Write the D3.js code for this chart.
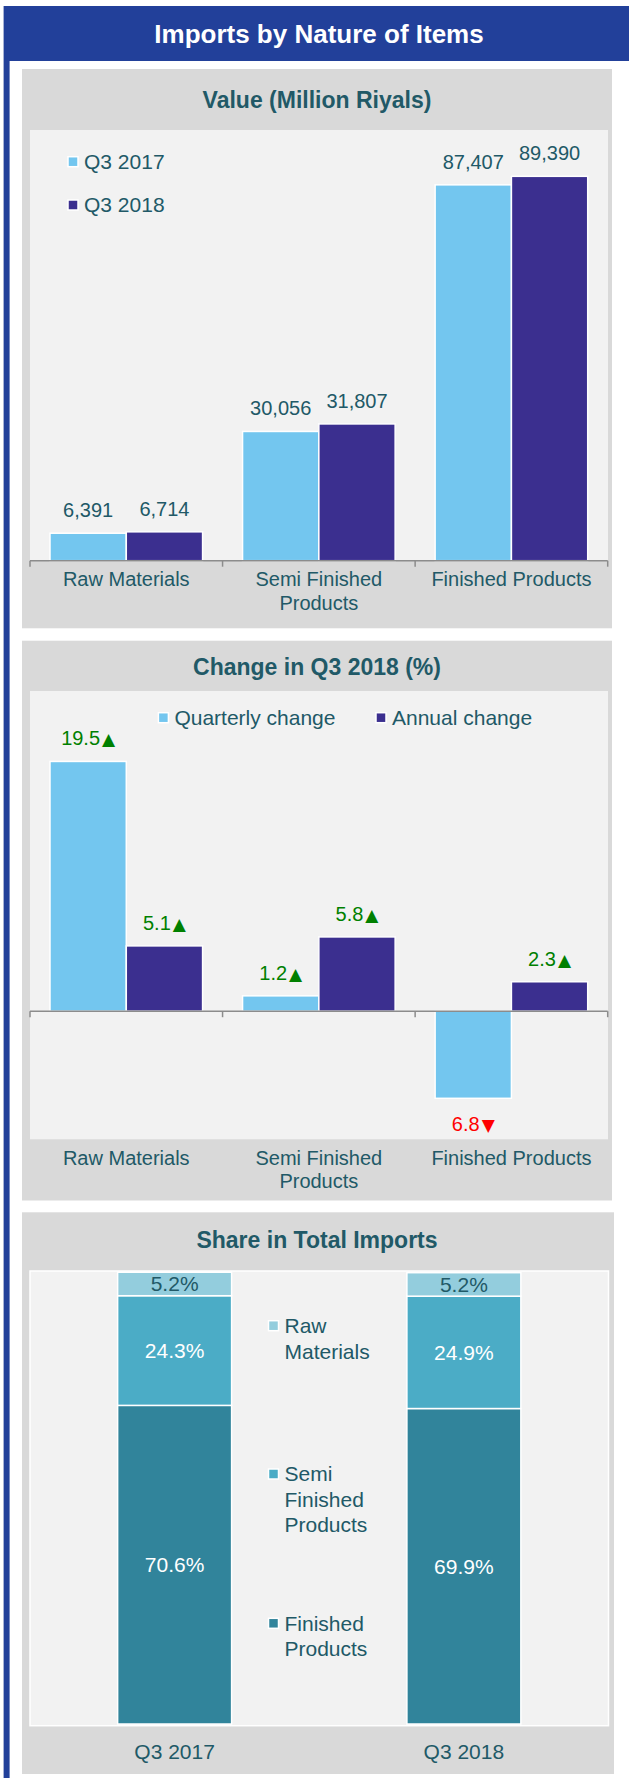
<!DOCTYPE html>
<html><head><meta charset="utf-8">
<script src="https://cdn.jsdelivr.net/npm/d3@7"></script>
<style>
html,body{margin:0;padding:0;background:#fff;}
svg{display:block;font-family:"Liberation Sans",Arial,sans-serif;}
</style></head><body>
<svg id="c" width="629" height="1778"></svg>
<script>
// ---------- DATA ----------
const categories = ["Raw Materials", "Semi Finished Products", "Finished Products"];
const valueSeries = ["Q3 2017", "Q3 2018"];
const values2017 = [6391, 30056, 87407];
const values2018 = [6714, 31807, 89390];

const changeSeries = ["Quarterly change", "Annual change"];
const quarterlyChange = [19.5, 1.2, -6.8];
const annualChange = [5.1, 5.8, 2.3];

const shareCategories = ["Q3 2017", "Q3 2018"];
const shareItems = ["Raw Materials", "Semi Finished Products", "Finished Products"];
const shareRaw = [5.2, 5.2];
const shareSemi = [24.3, 24.9];
const shareFinished = [70.6, 69.9];

// ---------- STYLE ----------
const W = 629, H = 1778;
const TEAL = "#215967";
const C17 = "#73c6ef", C18 = "#3b2f8f";
const SHARE_COLORS = ["#93cddd", "#4bacc6", "#31849b"];
const UP = "#008000", DOWN = "#ff0000";

const svg = d3.select("#c");

// outer frame + header
svg.append("rect").attr("x", 3.6).attr("y", 6).attr("width", W).attr("height", H).attr("fill", "#22409a");
svg.append("rect").attr("x", 9.6).attr("y", 61).attr("width", W).attr("height", H).attr("fill", "#fff");
svg.append("text").attr("x", 319).attr("y", 34).attr("dy", "0.35em").attr("text-anchor", "middle")
  .attr("fill", "#fff").attr("font-size", 26).attr("font-weight", "bold").text("Imports by Nature of Items");

function wrapText(sel, width, lineH) {
  sel.each(function () {
    const t = d3.select(this);
    const words = t.text().split(/\s+/);
    const x = t.attr("x");
    t.text(null);
    let line = [], lines = [];
    let tsp = t.append("tspan");
    words.forEach(w => {
      line.push(w);
      tsp.text(line.join(" "));
      if (tsp.node().getComputedTextLength() > width && line.length > 1) {
        line.pop();
        lines.push(line.join(" "));
        line = [w];
        tsp.text(w);
      }
    });
    lines.push(line.join(" "));
    t.text(null);
    lines.forEach((l, i) => {
      t.append("tspan").attr("x", x).attr("dy", i === 0 ? "0.35em" : lineH).text(l);
    });
  });
}

function panel(x0, y0, x1, y1, title, ty) {
  svg.append("rect").attr("x", x0).attr("y", y0).attr("width", x1 - x0).attr("height", y1 - y0).attr("fill", "#d9d9d9");
  svg.append("text").attr("x", 317).attr("y", ty).attr("dy", "0.35em").attr("text-anchor", "middle")
    .attr("fill", TEAL).attr("font-size", 23).attr("font-weight", "bold").text(title);
}
function plotArea(x0, y0, x1, y1, stroke) {
  svg.append("rect").attr("x", x0).attr("y", y0).attr("width", x1 - x0).attr("height", y1 - y0)
    .attr("fill", "#f2f2f2").attr("stroke", stroke || "none").attr("stroke-width", 1.5);
}
function drawAxis(xs, yBase, xEnd) {
  const g = svg.append("g");
  g.append("line").attr("x1", xs.range()[0]).attr("x2", xEnd).attr("y1", yBase).attr("y2", yBase)
    .attr("stroke", "#8c8c8c").attr("stroke-width", 1.5);
  const ticks = xs.domain().map(d => xs(d)).concat([xEnd]);
  g.selectAll(".tk").data(ticks).join("line").attr("x1", d => d).attr("x2", d => d)
    .attr("y1", yBase).attr("y2", yBase + 6).attr("stroke", "#8c8c8c").attr("stroke-width", 1.5);
}
function catLabels(xs, y) {
  svg.append("g").selectAll("text").data(xs.domain()).join("text")
    .attr("x", d => xs(d) + xs.bandwidth() / 2).attr("y", y).attr("text-anchor", "middle")
    .attr("fill", TEAL).attr("font-size", 20).text(d => d)
    .call(wrapText, 180, 23.5);
}
function legendItem(x, y, color, label, wrapW, lineH) {
  svg.append("rect").attr("x", x).attr("y", y - 5).attr("width", 10).attr("height", 10)
    .attr("fill", color).attr("stroke", "#fff").attr("stroke-width", 1.5);
  const t = svg.append("text").attr("x", x + 16).attr("y", y).attr("fill", TEAL).attr("font-size", 21).text(label);
  if (wrapW) t.call(wrapText, wrapW, lineH); else t.attr("dy", "0.35em");
}

// ---------- CHART 1 : Value ----------
panel(22, 69, 612, 628.3, "Value (Million Riyals)", 100);
plotArea(30, 130, 608, 560.7);
{
  const x0 = d3.scaleBand().domain(categories).range([30, 607.7]);
  const x1 = d3.scaleBand().domain(valueSeries).range([0, x0.bandwidth()]).paddingOuter(0.262);
  const y = d3.scaleLinear().domain([0, 100000]).range([560.7, 130.7]);
  const rows = categories.map((c, i) => ({ cat: c, vals: [
    { s: valueSeries[0], v: values2017[i], c: C17 },
    { s: valueSeries[1], v: values2018[i], c: C18 }] }));
  const g = svg.append("g").selectAll("g").data(rows).join("g")
    .attr("transform", d => `translate(${x0(d.cat)},0)`);
  g.selectAll("rect").data(d => d.vals).join("rect")
    .attr("x", d => x1(d.s)).attr("width", x1.bandwidth())
    .attr("y", d => y(d.v)).attr("height", d => y(0) - y(d.v))
    .attr("fill", d => d.c).attr("stroke", "#fff").attr("stroke-width", 1.5);
  g.selectAll("text").data(d => d.vals).join("text")
    .attr("x", d => x1(d.s) + x1.bandwidth() / 2).attr("y", d => y(d.v) - 23).attr("dy", "0.35em")
    .attr("text-anchor", "middle").attr("fill", TEAL).attr("font-size", 20)
    .text(d => d3.format(",")(d.v));
  drawAxis(x0, y(0), 607.7);
  catLabels(x0, 579.3);
  legendItem(68, 161.7, C17, valueSeries[0]);
  legendItem(68, 205, C18, valueSeries[1]);
}

// ---------- CHART 2 : Change ----------
panel(22, 640.7, 612, 1200.5, "Change in Q3 2018 (%)", 666.7);
plotArea(30, 691, 608, 1139.3);
{
  const x0 = d3.scaleBand().domain(categories).range([30, 607.7]);
  const x1 = d3.scaleBand().domain(changeSeries).range([0, x0.bandwidth()]).paddingOuter(0.262);
  const y = d3.scaleLinear().domain([-10, 25]).range([1139.3, 691]);
  const rows = categories.map((c, i) => ({ cat: c, vals: [
    { s: changeSeries[0], v: quarterlyChange[i], c: C17 },
    { s: changeSeries[1], v: annualChange[i], c: C18 }] }));
  const g = svg.append("g").selectAll("g").data(rows).join("g")
    .attr("transform", d => `translate(${x0(d.cat)},0)`);
  g.selectAll("rect").data(d => d.vals).join("rect")
    .attr("x", d => x1(d.s)).attr("width", x1.bandwidth())
    .attr("y", d => Math.min(y(d.v), y(0))).attr("height", d => Math.abs(y(0) - y(d.v)))
    .attr("fill", d => d.c).attr("stroke", "#fff").attr("stroke-width", 1.5);
  const lab = g.selectAll("text").data(d => d.vals).join("text")
    .attr("x", d => x1(d.s) + x1.bandwidth() / 2)
    .attr("y", d => d.v >= 0 ? y(d.v) - 23 : y(d.v) + 26).attr("dy", "0.35em")
    .attr("text-anchor", "middle").attr("font-size", 20)
    .attr("fill", d => d.v >= 0 ? UP : DOWN);
  lab.append("tspan").text(d => d3.format(".1f")(Math.abs(d.v)));
  lab.append("tspan").attr("dx", 2).attr("font-size", 17).attr("font-family", "DejaVu Sans")
    .text(d => d.v >= 0 ? "\u25B2" : "\u25BC");
  drawAxis(x0, y(0), 607.7);
  catLabels(x0, 1157.7);
  legendItem(158.4, 717.7, C17, changeSeries[0]);
  legendItem(376, 717.7, C18, changeSeries[1]);
}

// ---------- CHART 3 : Share ----------
panel(22, 1212.3, 614, 1774, "Share in Total Imports", 1240);
plotArea(30, 1271, 608.5, 1725.7, "#fff");
{
  const keys = ["Finished", "Semi", "Raw"];
  const names = { Raw: shareItems[0], Semi: shareItems[1], Finished: shareItems[2] };
  const colors = { Raw: SHARE_COLORS[0], Semi: SHARE_COLORS[1], Finished: SHARE_COLORS[2] };
  const rows = shareCategories.map((c, i) => ({ cat: c, Raw: shareRaw[i], Semi: shareSemi[i], Finished: shareFinished[i] }));
  const stacked = d3.stack().keys(keys)(rows);
  const x = d3.scaleBand().domain(shareCategories).range([30, 608.5]);
  const bw = x.bandwidth() * 0.394;
  const y = d3.scaleLinear().domain([0, 100]).range([1724, 1272.7]);
  const layers = svg.append("g").selectAll("g").data(stacked).join("g").attr("fill", d => colors[d.key]);
  layers.selectAll("rect").data(d => d.map(p => Object.assign(p, { key: d.key }))).join("rect")
    .attr("x", d => x(d.data.cat) + (x.bandwidth() - bw) / 2).attr("width", bw)
    .attr("y", d => y(d[1])).attr("height", d => y(d[0]) - y(d[1]))
    .attr("stroke", "#fff").attr("stroke-width", 1.5);
  layers.selectAll("text").data(d => d).join("text")
    .attr("x", d => x(d.data.cat) + x.bandwidth() / 2).attr("y", d => (y(d[0]) + y(d[1])) / 2)
    .attr("dy", "0.35em").attr("text-anchor", "middle").attr("font-size", 21)
    .attr("fill", d => d.key === "Raw" ? TEAL : "#fff")
    .text(d => d3.format(".1f")(d.data[d.key]) + "%");
  svg.append("g").selectAll("text").data(shareCategories).join("text")
    .attr("x", d => x(d) + x.bandwidth() / 2).attr("y", 1751.7).attr("dy", "0.35em")
    .attr("text-anchor", "middle").attr("fill", TEAL).attr("font-size", 21).text(d => d);
  const legY = [1325.7, 1474, 1623.3];
  ["Raw", "Semi", "Finished"].forEach((k, i) => legendItem(268.5, legY[i], colors[k], names[k], 95, 25.5));
}
</script>
</body></html>
